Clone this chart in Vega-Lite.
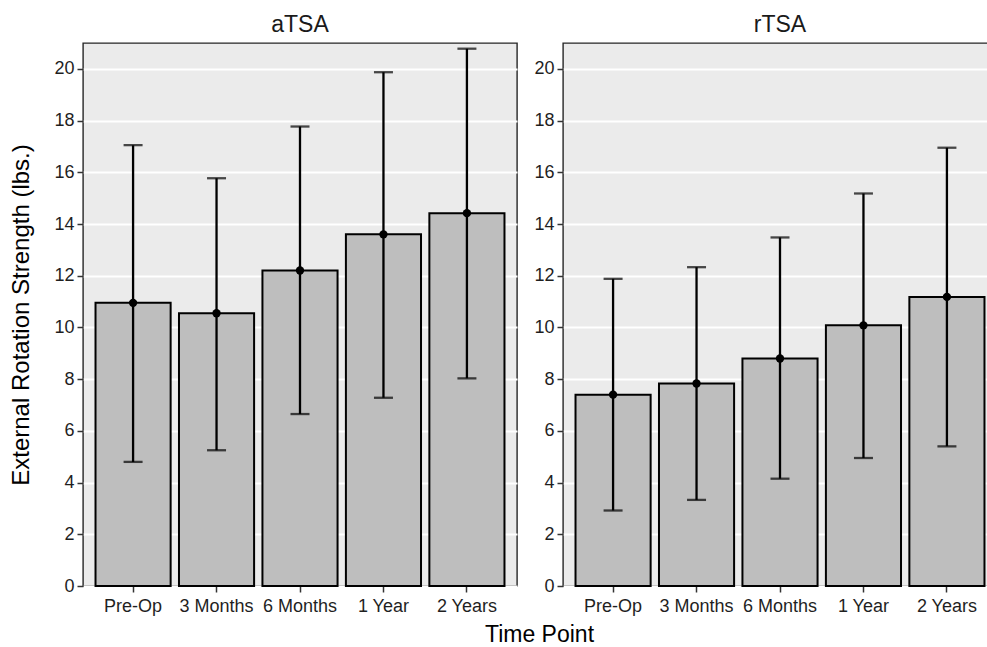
{
  "$schema": "https://vega.github.io/schema/vega-lite/v6.json",
  "padding": {"left": 9, "top": 13, "right": 0, "bottom": 0},
  "background": "white",
  "config": {
    "font": "Liberation Sans",
    "view": {"fill": "#ebebeb", "stroke": "#262626", "strokeWidth": 1.4},
    "axis": {
      "labelFont": "Liberation Sans", "labelFontSize": 18, "labelColor": "#1f1f1f",
      "titleFont": "Liberation Sans", "titleFontSize": 24, "titleColor": "#000000", "titleFontWeight": "normal",
      "tickColor": "#333333", "tickSize": 6, "tickWidth": 1.5, "labelPadding": 3,
      "domain": false
    },
    "title": {"font": "Liberation Sans", "fontWeight": "normal", "color": "#1a1a1a"},
    "concat": {"spacing": 15}
  },
  "title": {"text": "Time Point", "orient": "bottom", "anchor": "middle", "fontSize": 23, "offset": 8, "dx": 36, "color": "#000000"},
  "data": {
    "values": [
      {"group": "aTSA", "time": "Pre-Op", "mean": 10.95, "lo": 4.8, "hi": 17.05},
      {"group": "aTSA", "time": "3 Months", "mean": 10.55, "lo": 5.25, "hi": 15.77},
      {"group": "aTSA", "time": "6 Months", "mean": 12.2, "lo": 6.65, "hi": 17.77},
      {"group": "aTSA", "time": "1 Year", "mean": 13.6, "lo": 7.28, "hi": 19.87},
      {"group": "aTSA", "time": "2 Years", "mean": 14.42, "lo": 8.03, "hi": 20.78},
      {"group": "rTSA", "time": "Pre-Op", "mean": 7.4, "lo": 2.92, "hi": 11.88},
      {"group": "rTSA", "time": "3 Months", "mean": 7.83, "lo": 3.33, "hi": 12.33},
      {"group": "rTSA", "time": "6 Months", "mean": 8.8, "lo": 4.15, "hi": 13.48},
      {"group": "rTSA", "time": "1 Year", "mean": 10.08, "lo": 4.95, "hi": 15.18},
      {"group": "rTSA", "time": "2 Years", "mean": 11.18, "lo": 5.4, "hi": 16.95}
    ]
  },
  "hconcat": [
    {
      "width": 434, "height": 543,
      "title": {"text": "aTSA", "fontSize": 23, "anchor": "middle", "offset": 6},
      "transform": [{"filter": "datum.group === 'aTSA'"}],
      "encoding": {
        "x": {"field": "time", "type": "nominal", "sort": ["Pre-Op", "3 Months", "6 Months", "1 Year", "2 Years"],
              "scale": {"paddingInner": 0.1, "paddingOuter": 0.15},
              "axis": {"title": null, "labelAngle": 0, "grid": false, "labelPadding": 5}}
      },
      "layer": [
        {"mark": {"type": "bar", "fill": "#bebebe", "stroke": "#000000", "strokeWidth": 2},
         "encoding": {"y": {"field": "mean", "type": "quantitative", "scale": {"domain": [0, 21], "nice": false},
           "axis": {"title": "External Rotation Strength (lbs.)", "titlePadding": 20, "values": [0,2,4,6,8,10,12,14,16,18,20], "gridColor": "#ffffff", "gridWidth": 2}}}},
        {"mark": {"type": "rule", "color": "#000000", "strokeWidth": 2.3},
         "encoding": {"y": {"field": "lo", "type": "quantitative"}, "y2": {"field": "hi"}}},
        {"mark": {"type": "tick", "color": "#000000", "size": 19, "thickness": 2.3},
         "encoding": {"y": {"field": "lo", "type": "quantitative"}}},
        {"mark": {"type": "tick", "color": "#000000", "size": 19, "thickness": 2.3},
         "encoding": {"y": {"field": "hi", "type": "quantitative"}}},
        {"mark": {"type": "circle", "color": "#000000", "opacity": 1, "size": 70},
         "encoding": {"y": {"field": "mean", "type": "quantitative"}}}
      ]
    },
    {
      "width": 434, "height": 543,
      "title": {"text": "rTSA", "fontSize": 23, "anchor": "middle", "offset": 6},
      "transform": [{"filter": "datum.group === 'rTSA'"}],
      "encoding": {
        "x": {"field": "time", "type": "nominal", "sort": ["Pre-Op", "3 Months", "6 Months", "1 Year", "2 Years"],
              "scale": {"paddingInner": 0.1, "paddingOuter": 0.15},
              "axis": {"title": null, "labelAngle": 0, "grid": false, "labelPadding": 5}}
      },
      "layer": [
        {"mark": {"type": "bar", "fill": "#bebebe", "stroke": "#000000", "strokeWidth": 2},
         "encoding": {"y": {"field": "mean", "type": "quantitative", "scale": {"domain": [0, 21], "nice": false},
           "axis": {"title": null, "values": [0,2,4,6,8,10,12,14,16,18,20], "gridColor": "#ffffff", "gridWidth": 2}}}},
        {"mark": {"type": "rule", "color": "#000000", "strokeWidth": 2.3},
         "encoding": {"y": {"field": "lo", "type": "quantitative"}, "y2": {"field": "hi"}}},
        {"mark": {"type": "tick", "color": "#000000", "size": 19, "thickness": 2.3},
         "encoding": {"y": {"field": "lo", "type": "quantitative"}}},
        {"mark": {"type": "tick", "color": "#000000", "size": 19, "thickness": 2.3},
         "encoding": {"y": {"field": "hi", "type": "quantitative"}}},
        {"mark": {"type": "circle", "color": "#000000", "opacity": 1, "size": 70},
         "encoding": {"y": {"field": "mean", "type": "quantitative"}}}
      ]
    }
  ]
}
